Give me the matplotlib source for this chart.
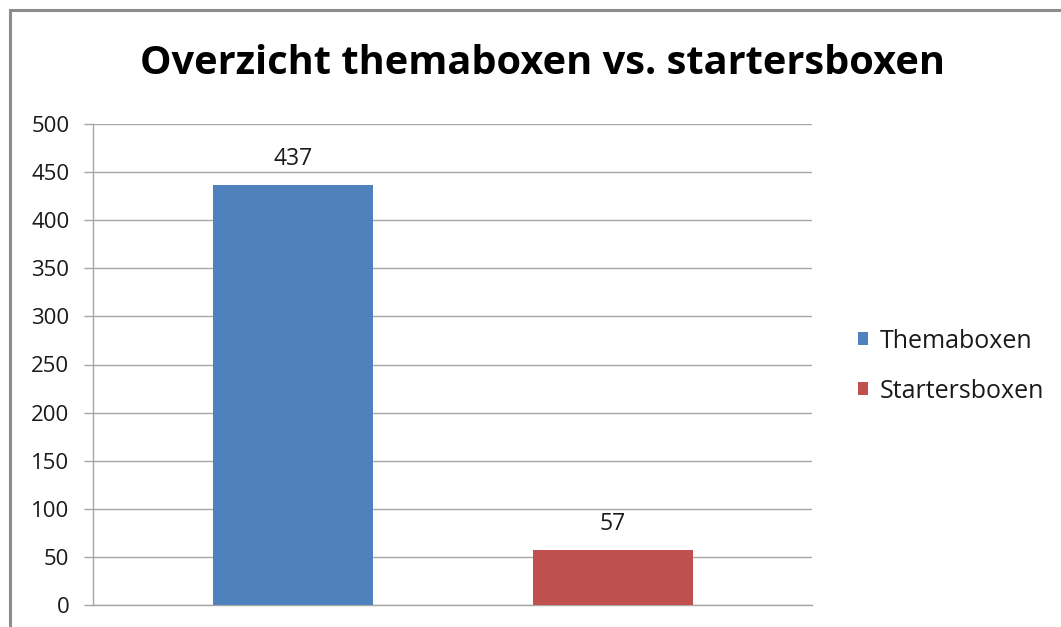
import matplotlib.pyplot as plt
from matplotlib.patches import Rectangle

categories = ["Themaboxen", "Startersboxen"]
values = [437, 57]
colors = ["#4F81BD", "#C0504D"]
yticks = [0, 50, 100, 150, 200, 250, 300, 350, 400, 450, 500]

plt.rcParams['font.family'] = ['Open Sans', 'DejaVu Sans']

fig = plt.figure(figsize=(10.61, 6.27), dpi=100)
# outer chart border (clipped at right/bottom like the screenshot)
fig.patches.append(Rectangle((10 / 1061, -0.05), 1.1, 1 - 10 / 627 + 0.05,
                             transform=fig.transFigure, fill=False,
                             edgecolor="#8C8C8C", linewidth=2.2))

ax = fig.add_axes([93 / 1061, 1 - 605 / 627, (812 - 93) / 1061, (605 - 124) / 627])
x = [0, 1]
bars = ax.bar(x, values, width=0.5, color=colors, label=categories, zorder=3)

ax.set_ylim(0, 500)
ax.set_xlim(-0.625, 1.622)
ax.set_yticks(yticks)
ax.set_xticks([])
ax.grid(axis="y", color="#A6A6A6", linewidth=1, zorder=0)
for s in ["top", "right"]:
    ax.spines[s].set_visible(False)
for s in ["left", "bottom"]:
    ax.spines[s].set_color("#A6A6A6")
    ax.spines[s].set_linewidth(1)
ax.tick_params(axis="y", length=6.5, width=1, color="#A6A6A6", labelsize=16,
               labelcolor="#1a1a1a", pad=10.5)

for b, v in zip(bars, values):
    ax.text(b.get_x() + b.get_width() / 2, v + 27, str(v), ha="center",
            va="center", fontsize=16.5, color="#1a1a1a")

fig.text(543 / 1061, 1 - 64 / 627, "Overzicht themaboxen vs. startersboxen",
         ha="center", va="center", fontsize=28.6, fontweight="bold", color="#000000")

ax.legend(handles=bars, labels=categories, loc="center left",
          bbox_to_anchor=(835 / 1061, 1 - 366 / 627), bbox_transform=fig.transFigure,
          frameon=False, fontsize=18, handlelength=0.4, handleheight=0.4,
          handletextpad=0.5, labelspacing=1.0, labelcolor="#1a1a1a")

fig.savefig("out.png", dpi=100)
